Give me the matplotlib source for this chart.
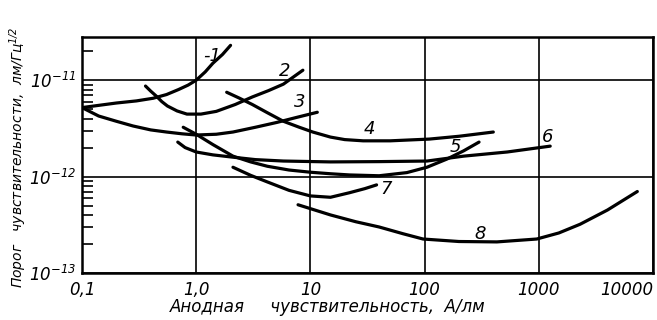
import matplotlib
matplotlib.use('Agg')
import matplotlib.pyplot as plt
from matplotlib.ticker import LogLocator, NullFormatter, FixedLocator

plt.rcParams['font.family'] = ['DejaVu Sans']
plt.rcParams['font.style'] = 'italic'
plt.rcParams['mathtext.fontset'] = 'dejavusans'
plt.rcParams['mathtext.default'] = 'it'

# anode sensitivity, A/lm  /  threshold, 1e-12 lm/Hz^1/2
c1_x = [0.1, 0.2, 0.3, 0.42, 0.55, 0.7, 0.85, 1.0, 1.2, 1.4, 1.7, 2.0]
c1_y = [5.2, 5.8, 6.1, 6.5, 7.1, 8.0, 8.9, 10.0, 12.2, 15.0, 18.5, 23.0]
c2_x = [0.36, 0.4, 0.45, 0.5, 0.56, 0.68, 0.83, 1.1, 1.5, 2.2, 3.1, 4.3, 5.8, 8.6]
c2_y = [8.7, 7.7, 6.8, 6.0, 5.4, 4.8, 4.45, 4.45, 4.75, 5.6, 6.7, 7.8, 9.1, 12.7]
c3_x = [0.1, 0.14, 0.2, 0.28, 0.4, 0.55, 0.75, 1.0, 1.5, 2.1, 3.3, 5.1, 7.5, 11.5]
c3_y = [5.2, 4.25, 3.75, 3.35, 3.05, 2.9, 2.78, 2.7, 2.75, 2.9, 3.25, 3.65, 4.1, 4.65]
c4_x = [1.85, 2.4, 3.1, 4.2, 5.8, 8.0, 10.5, 15, 20, 29, 50, 110, 200, 400]
c4_y = [7.5, 6.5, 5.6, 4.6, 3.75, 3.25, 2.9, 2.57, 2.42, 2.35, 2.35, 2.45, 2.62, 2.9]
c5_x = [0.77, 1.0, 1.4, 2.1, 3.0, 4.2, 6.5, 10, 15, 22, 40, 70, 105, 157, 220, 300]
c5_y = [3.25, 2.75, 2.15, 1.63, 1.42, 1.28, 1.17, 1.11, 1.07, 1.04, 1.02, 1.1, 1.25, 1.52, 1.85, 2.28]
c6_x = [0.69, 0.8, 1.0, 1.4, 2.1, 3.3, 5.8, 15, 40, 105, 220, 530, 1260]
c6_y = [2.28, 2.0, 1.8, 1.68, 1.59, 1.5, 1.45, 1.42, 1.43, 1.45, 1.63, 1.8, 2.07]
c7_x = [2.1, 3.0, 4.2, 6.5, 10, 15, 22, 30, 38]
c7_y = [1.25, 1.03, 0.88, 0.72, 0.63, 0.61, 0.68, 0.75, 0.82]
c8_x = [7.8, 15, 25, 40, 65, 97, 200, 430, 960, 1500, 2300, 4000, 7300]
c8_y = [0.51, 0.40, 0.34, 0.30, 0.255, 0.225, 0.212, 0.21, 0.225, 0.26, 0.32, 0.45, 0.70]

curves = [(c1_x, c1_y), (c2_x, c2_y), (c3_x, c3_y), (c4_x, c4_y),
          (c5_x, c5_y), (c6_x, c6_y), (c7_x, c7_y), (c8_x, c8_y)]

curve_names = ['-1', '2', '3', '4', '5', '6', '7', '8']
name_x = [1.37, 5.9, 8.1, 33, 185, 1200, 46, 305]
name_y = [17.7, 12.4, 5.9, 3.1, 2.02, 2.57, 0.74, 0.254]

x_ticks = [0.1, 1, 10, 100, 1000, 10000]
x_labels = ['0,1', '1,0', '10', '100', '1000', '10000']
y_ticks = [1e-13, 1e-12, 1e-11]
y_labels = [r'$10^{-13}$', r'$10^{-12}$', r'$10^{-11}$']

fig = plt.figure(figsize=(6.57, 3.2), dpi=100)
ax = fig.add_axes([0.1248, 0.147, 0.869, 0.737])

for (xs, ys) in curves:
    ax.plot(xs, [v * 1e-12 for v in ys], color='black', lw=2.3,
            solid_capstyle='round', solid_joinstyle='round')

for name, tx, ty in zip(curve_names, name_x, name_y):
    ax.text(tx, ty * 1e-12, name, fontsize=13, ha='center', va='center')

ax.set_xscale('log')
ax.set_yscale('log')
ax.set_xlim(0.1, 10000)
ax.set_ylim(1e-13, 2.8e-11)

ax.xaxis.set_major_locator(FixedLocator(x_ticks))
ax.set_xticklabels(x_labels, fontsize=12)
ax.get_xticklabels()[-1].set_ha('right')
ax.xaxis.set_minor_locator(FixedLocator([]))
ax.yaxis.set_major_locator(FixedLocator(y_ticks))
ax.set_yticklabels(y_labels, fontsize=12)
ax.yaxis.set_minor_locator(LogLocator(base=10, subs=range(2, 10)))
ax.yaxis.set_minor_formatter(NullFormatter())

ax.tick_params(axis='x', which='both', length=0, pad=6)
ax.tick_params(axis='y', which='major', length=0, pad=4)
ax.tick_params(axis='y', which='minor', direction='in', length=8, width=1.2,
               left=True, right=False)

ax.grid(True, which='major', color='black', lw=1.2)
for s in ax.spines.values():
    s.set_linewidth(1.8)

ax.set_xlabel('Анодная     чувствительность,  А/лм', fontsize=12)
ax.xaxis.set_label_coords(0.43, -0.105)
ax.set_ylabel('Порог   чувствительности,  лм/Гц$^{1/2}$', fontsize=10)
ax.yaxis.set_label_coords(-0.092, 0.49)

fig.savefig('out.png', dpi=100)
